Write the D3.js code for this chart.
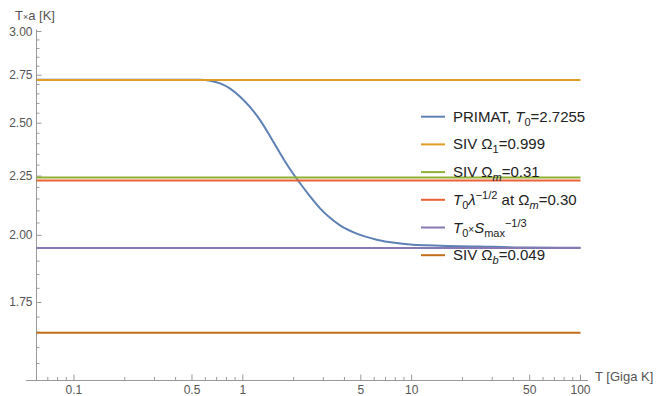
<!DOCTYPE html>
<meta charset="utf-8">
<head>
    <title>T x a vs T</title>
    <script type="text/javascript" src="https://d3js.org/d3.v7.min.js"></script>
    <style>
        body { margin: 0; background: #fff; }
        text { font-family: "Liberation Sans", Arial, sans-serif; }
    </style>
</head>
<body>
    <div id="chart"></div>

    <script>
        // PRIMAT curve
        var primatT  = [0.06, 0.3, 0.5, 0.559, 0.640, 0.734, 0.841, 0.964, 1.105, 1.266, 1.450, 1.662, 1.905, 2.183, 2.501, 2.867, 3.285, 3.764, 4.727, 6.207, 8.152, 10.71, 25, 50, 100];
        var primatTa = [2.7255, 2.7255, 2.7255, 2.7250, 2.7202, 2.7057, 2.6778, 2.6354, 2.5809, 2.5149, 2.4360, 2.3549, 2.2810, 2.2183, 2.1616, 2.1105, 2.0709, 2.0402, 2.0068, 1.9829, 1.9696, 1.9617, 1.956, 1.952, 1.951];

        // constant lines
        var levelNames  = ["siv1", "sivm", "lambda", "smax", "sivb"];
        var levelValues = [2.724, 2.244, 2.231, 1.950, 1.648];

        var colors = ["#5E81B5", "#E19C24", "#8FB032", "#EB6235", "#8778B3", "#C56E1A"];

        var xMajor = [0.1, 0.5, 1, 5, 10, 50, 100];
        var yMajor = [1.75, 2.00, 2.25, 2.50, 2.75, 3.00];

        // legend entries: [text, style, position]
        var legendItems = [
            [["PRIMAT, ", "", ""], ["T", "i", ""], ["0", "", "sub"], ["=2.7255", "", ""]],
            [["SIV \u03A9", "", ""], ["1", "", "sub"], ["=0.999", "", ""]],
            [["SIV \u03A9", "", ""], ["m", "i", "sub"], ["=0.31", "", ""]],
            [["T", "i", ""], ["0", "", "sub"], ["\u03BB", "i", ""], ["\u22121/2", "", "sup"], [" at \u03A9", "", ""], ["m", "i", "sub"], ["=0.30", "", ""]],
            [["T", "i", ""], ["0", "", "sub"], ["\u00D7", "", "x"], ["S", "i", ""], ["max", "", "sub"], ["\u22121/3", "", "sup"]],
            [["SIV \u03A9", "", ""], ["b", "i", "sub"], ["=0.049", "", ""]]
        ];

        var width = 662;
        var height = 396;

        var svg = d3.select("#chart").append("svg")
                    .attr("width", width)
                    .attr("height", height);

        var x = d3.scaleLog().domain([0.06, 100]).range([36.5, 580.5]);
        var y = d3.scaleLog().domain([1.5, 3.0]).range([380, 31.5]);
        var axisY = 380.5;

        // minor ticks
        var xMinor = [];
        [0.01, 0.1, 1, 10].forEach(function(p) {
            for (var k = 1; k < 10; k++) {
                var v = +(k * p).toPrecision(3);
                if (v > 0.06 && v < 100 && xMajor.indexOf(v) < 0) xMinor.push(v);
            }
        });
        var yMinor = [];
        for (var i = 31; i < 60; i++) {
            var v = i * 0.05;
            if (Math.abs(v / 0.25 - Math.round(v / 0.25)) > 1e-6) yMinor.push(v);
        }

        var axisColor = "#999";
        var labelColor = "#555";

        // x axis
        var gx = svg.append("g").attr("transform", "translate(0," + axisY + ")");
        gx.append("line").attr("x1", 26).attr("x2", 588).attr("stroke", axisColor);
        gx.selectAll(".minor").data(xMinor).enter().append("line")
          .attr("x1", d => x(d)).attr("x2", d => x(d))
          .attr("y1", 0).attr("y2", -3.5).attr("stroke", axisColor);
        gx.selectAll(".major").data(xMajor).enter().append("line")
          .attr("x1", d => x(d)).attr("x2", d => x(d))
          .attr("y1", 0).attr("y2", -6).attr("stroke", axisColor);
        gx.selectAll(".lab").data(xMajor).enter().append("text")
          .attr("x", d => x(d)).attr("y", 13.5)
          .attr("text-anchor", "middle").attr("font-size", 12).attr("fill", labelColor)
          .text(d => d3.format("")(d));
        gx.append("text").attr("x", 595).attr("y", 0)
          .attr("font-size", 13).attr("fill", labelColor)
          .text("T [Giga K]");

        // y axis
        var gy = svg.append("g").attr("transform", "translate(36.5,0)");
        gy.append("line").attr("y1", 29.5).attr("y2", axisY).attr("stroke", axisColor);
        gy.selectAll(".minor").data(yMinor).enter().append("line")
          .attr("y1", d => y(d)).attr("y2", d => y(d))
          .attr("x1", 0).attr("x2", 3).attr("stroke", axisColor);
        gy.selectAll(".major").data(yMajor).enter().append("line")
          .attr("y1", d => y(d)).attr("y2", d => y(d))
          .attr("x1", 0).attr("x2", 5).attr("stroke", axisColor);
        gy.selectAll(".lab").data(yMajor).enter().append("text")
          .attr("x", -4).attr("y", d => y(d) + 4)
          .attr("text-anchor", "end").attr("font-size", 12).attr("fill", labelColor)
          .text(d => d3.format(".2f")(d));
        var yl = svg.append("text").attr("x", 15).attr("y", 19.5)
                    .attr("font-size", 13).attr("fill", labelColor);
        yl.append("tspan").text("T");
        yl.append("tspan").attr("font-size", 9).text("\u00D7");
        yl.append("tspan").text("a [K]");

        // PRIMAT curve
        var line = d3.line()
                     .x(function(d) { return x(d[0]); })
                     .y(function(d) { return y(d[1]); })
                     .curve(d3.curveMonotoneX);
        svg.append("path")
           .datum(d3.zip(primatT, primatTa))
           .attr("d", line)
           .attr("fill", "none")
           .attr("stroke", colors[0])
           .attr("stroke-width", 2);

        // horizontal lines
        svg.selectAll(".level").data(levelValues).enter().append("line")
           .attr("class", (d, i) => "level " + levelNames[i])
           .attr("x1", x(0.06)).attr("x2", x(100))
           .attr("y1", d => y(d)).attr("y2", d => y(d))
           .attr("stroke", (d, i) => colors[i + 1])
           .attr("stroke-width", 2);

        // legend
        var legend = svg.append("g").attr("transform", "translate(421,116.7)");
        legendItems.forEach(function(item, i) {
            var row = legend.append("g").attr("transform", "translate(0," + (i * 27.7) + ")");
            row.append("line").attr("x1", 0).attr("x2", 24)
               .attr("stroke", colors[i]).attr("stroke-width", 2);
            var t = row.append("text").attr("x", 32).attr("y", 5)
                       .attr("font-size", 15).attr("fill", "#222");
            var shift = 0;
            item.forEach(function(seg) {
                var target = seg[2] == "sub" ? 4 : seg[2] == "sup" ? -6 : 0;
                var sp = t.append("tspan").text(seg[0]).attr("dy", target - shift);
                shift = target;
                if (seg[1] == "i") sp.attr("font-style", "italic");
                if (seg[2] == "sub" || seg[2] == "sup") sp.attr("font-size", 11);
                if (seg[2] == "x") sp.attr("font-size", 10);
            });
        });
    </script>
</body>
</html>
